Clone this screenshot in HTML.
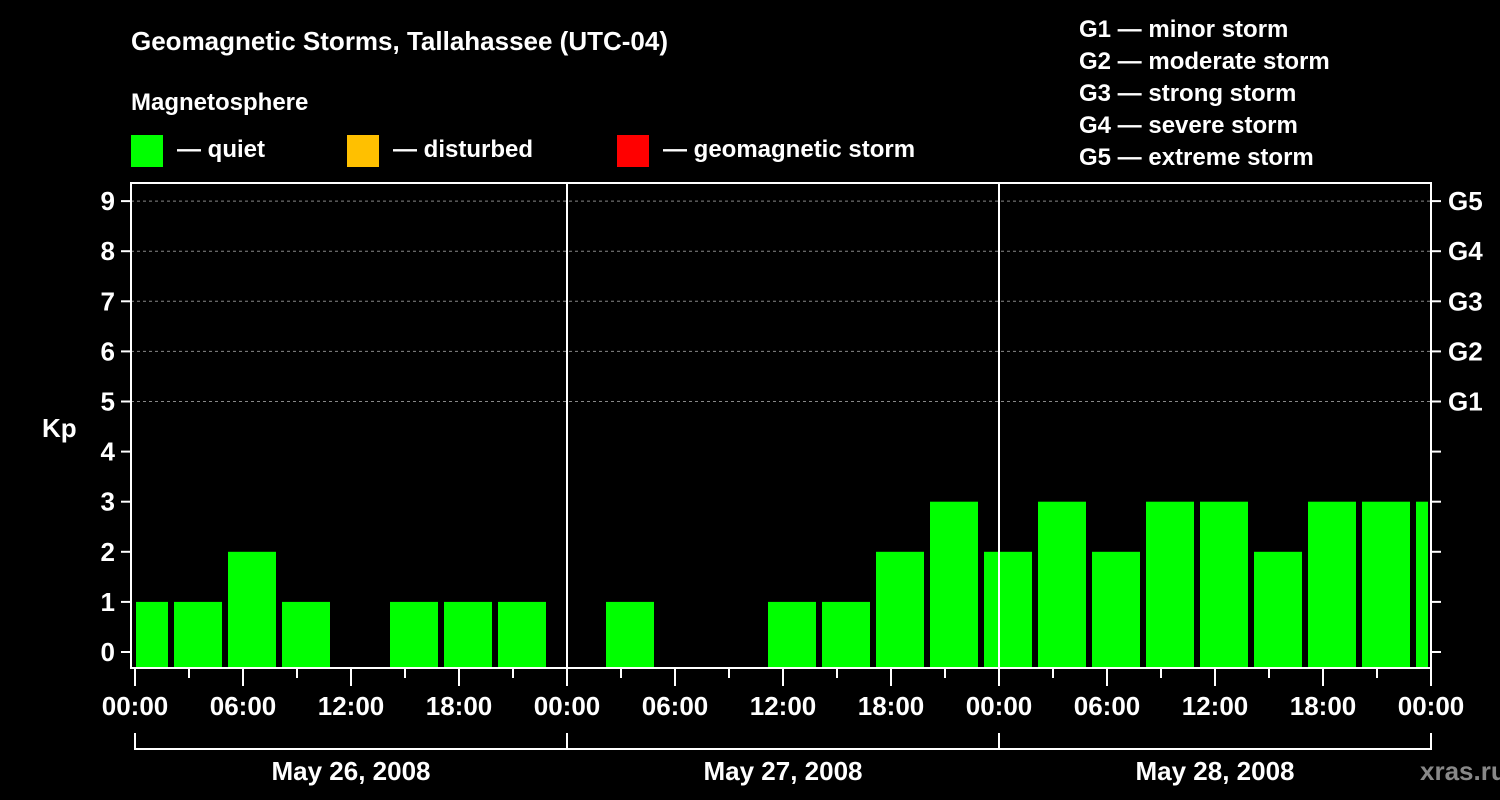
<!DOCTYPE html>
<html><head><meta charset="utf-8"><style>
body{margin:0;background:#000;}
svg{display:block;font-family:"Liberation Sans",Arial,sans-serif;font-weight:bold;}
</style></head><body>
<svg width="1500" height="800" viewBox="0 0 1500 800">
<rect width="1500" height="800" fill="#000"/>
<text x="131" y="50" fill="#fff" font-size="26">Geomagnetic Storms, Tallahassee (UTC-04)</text>
<text x="131" y="110" fill="#fff" font-size="24">Magnetosphere</text>
<g><rect x="131" y="135" width="32" height="32" fill="#00ff00"/><text x="177" y="157" fill="#fff" font-size="24">— quiet</text></g>
<g><rect x="347" y="135" width="32" height="32" fill="#ffc000"/><text x="393" y="157" fill="#fff" font-size="24">— disturbed</text></g>
<g><rect x="617" y="135" width="32" height="32" fill="#ff0000"/><text x="663" y="157" fill="#fff" font-size="24">— geomagnetic storm</text></g>
<g fill="#fff" font-size="24">
<text x="1079" y="37">G1 — minor storm</text>
<text x="1079" y="69">G2 — moderate storm</text>
<text x="1079" y="101">G3 — strong storm</text>
<text x="1079" y="133">G4 — severe storm</text>
<text x="1079" y="165">G5 — extreme storm</text>
</g>
<text x="42" y="437" fill="#fff" font-size="26">Kp</text>
<text x="1420" y="780" fill="#888" font-size="26">xras.ru</text>
<g id="plot"></g>
</svg>
<script>
const kpValues=[1,1,2,1,null,1,1,1,null,1,null,null,1,1,2,3,2,3,2,3,3,2,3,3,3];
const yTicks=[0,1,2,3,4,5,6,7,8,9];
const gLabels=["G1","G2","G3","G4","G5"];
const xTickLabels=["00:00","06:00","12:00","18:00","00:00","06:00","12:00","18:00","00:00","06:00","12:00","18:00","00:00"];
const dayLabels=["May 26, 2008","May 27, 2008","May 28, 2008"];
const NS="http://www.w3.org/2000/svg";
const g=document.getElementById('plot');
const L=131,R=1431,T=183,B=668,x0=135,pxH=18;
const X=h=>x0+h*pxH;
const Y=v=>652-v*50.1;
function mk(t,a,p){const e=document.createElementNS(NS,t);for(const k in a)e.setAttribute(k,a[k]);(p||g).appendChild(e);return e;}
// grid
for(let v=5;v<=9;v++){const e=mk('line',{x1:L,x2:R,y1:Y(v),y2:Y(v),stroke:'#888','stroke-dasharray':'3,3','stroke-width':1});

}
// bars
kpValues.forEach((v,i)=>{if(v==null)return;
let xs=X(i*3)-15,xe=xs+48;xs=Math.max(xs,L+5);xe=Math.min(xe,R-3);
const c=v>=5?'#ff0000':(v>=4?'#ffc000':'#00ff00');
const e=mk('rect',{x:xs,y:Y(v),width:xe-xs,height:B-1-Y(v),fill:c});

});
// day separators
[1,2].forEach(d=>{const e=mk('line',{x1:X(d*24),x2:X(d*24),y1:T,y2:B,stroke:'#fff','stroke-width':2});

});
// frame
const fr=mk('rect',{x:L,y:T,width:R-L,height:B-T,fill:'none',stroke:'#fff','stroke-width':2});


// y ticks
yTicks.forEach(v=>{mk('line',{x1:L-10,x2:L,y1:Y(v),y2:Y(v),stroke:'#fff','stroke-width':2});mk('line',{x1:R,x2:R+10,y1:Y(v),y2:Y(v),stroke:'#fff','stroke-width':2});
const t=mk('text',{x:L-16,y:Y(v)+9,fill:'#fff','font-size':26,'text-anchor':'end'});t.textContent=v;

});
gLabels.forEach((s,i)=>{const t=mk('text',{x:1448,y:Y(5+i)+9,fill:'#fff','font-size':26});t.textContent=s;

});
// x ticks
for(let h=0;h<=72;h+=3){const major=h%6===0;mk('line',{x1:X(h),x2:X(h),y1:B,y2:B+(major?18:10),stroke:'#fff','stroke-width':2});}
xTickLabels.forEach((s,i)=>{const t=mk('text',{x:X(i*6),y:715,fill:'#fff','font-size':26,'text-anchor':'middle'});t.textContent=s;

});
dayLabels.forEach((s,i)=>{const a=X(i*24),b=X(i*24+24);
mk('path',{d:`M${a},733 V749 H${b} V733`,fill:'none',stroke:'#fff','stroke-width':2});
const t=mk('text',{x:(a+b)/2,y:780,fill:'#fff','font-size':26,'text-anchor':'middle'});t.textContent=s;

});
</script>
</body></html>
